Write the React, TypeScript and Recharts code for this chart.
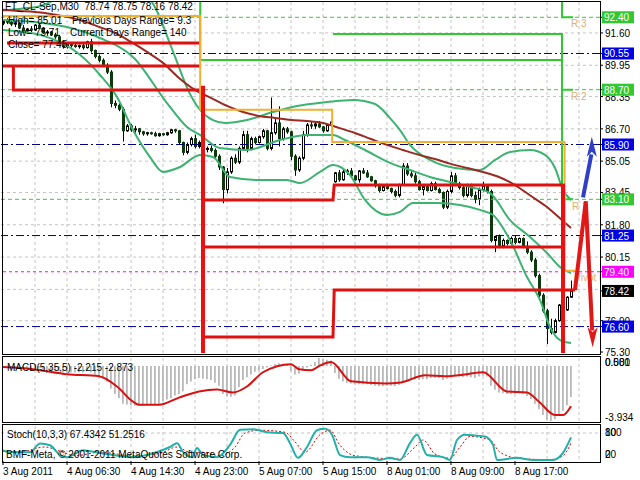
import React from 'react';
import {ComposedChart, Bar, Line, Scatter, XAxis, YAxis, CartesianGrid, ReferenceLine} from 'recharts';

const FONT = '"Liberation Sans", Arial, sans-serif';
const X_DOMAIN: [number, number] = [-0.5, 149.25];

// M30 bars: [open, high, low, close]
const candles: number[][] = [
	[92.1, 92.3, 92.0, 92.2], [92.2, 92.35, 92.05, 92.15], [92.15, 92.3, 91.95, 92.05], [92.05, 92.25, 91.9, 92.1],
	[92.1, 92.2, 91.8, 91.85], [91.85, 92.0, 91.6, 91.7], [91.7, 91.85, 91.55, 91.8], [91.8, 91.95, 91.65, 91.75],
	[91.75, 92.05, 91.7, 92.0], [92.0, 92.1, 91.8, 91.85], [91.85, 91.9, 91.55, 91.6], [91.6, 91.75, 91.5, 91.65],
	[91.65, 91.7, 91.45, 91.5], [91.5, 91.6, 91.3, 91.4], [91.4, 91.5, 91.05, 91.15], [91.15, 91.2, 90.8, 90.9],
	[90.9, 91.05, 90.8, 91.0], [91.0, 91.1, 90.85, 90.95], [90.95, 91.05, 90.85, 90.9], [90.9, 91.0, 90.8, 90.95],
	[90.95, 91.05, 90.75, 90.85], [90.85, 91.2, 90.8, 91.15], [91.15, 91.3, 90.6, 90.7], [90.7, 90.75, 90.3, 90.4],
	[90.4, 90.5, 90.1, 90.2], [90.2, 90.3, 89.85, 89.95], [89.95, 90.05, 89.5, 89.6], [89.6, 89.7, 87.8, 88.0],
	[88.0, 88.15, 87.75, 87.9], [87.9, 88.0, 87.6, 87.7], [87.7, 87.8, 86.05, 86.6], [86.6, 86.95, 86.55, 86.85],
	[86.85, 86.95, 86.55, 86.65], [86.65, 86.85, 86.5, 86.7], [86.7, 86.75, 86.4, 86.55], [86.55, 86.6, 86.35, 86.45],
	[86.45, 86.55, 86.35, 86.5], [86.5, 86.55, 86.4, 86.45], [86.45, 86.55, 86.3, 86.35], [86.35, 86.5, 86.3, 86.45],
	[86.45, 86.5, 86.35, 86.4], [86.4, 86.55, 86.35, 86.5], [86.5, 86.7, 86.45, 86.65], [86.65, 86.7, 86.5, 86.6],
	[86.6, 86.65, 85.9, 86.0], [86.0, 86.05, 85.35, 85.5], [85.5, 86.0, 85.4, 85.9], [85.9, 86.3, 85.8, 86.2],
	[86.2, 86.4, 85.7, 85.8], [85.8, 86.1, 85.7, 86.0], [86.0, 86.05, 85.55, 85.65], [85.65, 85.8, 85.5, 85.7],
	[85.7, 85.85, 85.5, 85.6], [85.6, 85.7, 85.2, 85.3], [85.3, 85.4, 84.6, 84.75], [84.75, 84.8, 82.9, 83.6],
	[83.6, 84.7, 83.4, 84.5], [84.5, 85.3, 84.4, 85.2], [85.2, 85.4, 84.9, 85.0], [85.0, 85.8, 84.9, 85.7],
	[85.7, 86.6, 85.6, 86.4], [86.4, 86.6, 85.5, 85.7], [85.7, 86.3, 85.6, 86.2], [86.2, 86.3, 85.9, 86.0],
	[86.0, 86.35, 85.95, 86.3], [86.3, 86.7, 86.2, 86.6], [86.6, 86.65, 85.6, 85.7], [85.7, 88.3, 85.6, 86.5],
	[86.5, 87.2, 86.4, 87.0], [87.0, 87.85, 85.8, 86.2], [86.2, 86.8, 86.1, 86.7], [86.7, 86.8, 86.45, 86.55],
	[86.55, 86.6, 85.1, 85.3], [85.3, 85.4, 84.3, 84.6], [84.6, 85.3, 84.5, 85.2], [85.2, 86.6, 85.1, 86.4],
	[86.4, 87.0, 86.3, 86.9], [86.9, 87.1, 86.7, 86.85], [86.85, 87.05, 86.7, 86.95], [86.95, 87.1, 86.75, 86.8],
	[86.8, 86.85, 86.5, 86.6], [86.6, 86.95, 86.55, 86.9], [86.9, 87.1, 86.8, 87.05],
	// 8 Aug
	[84.0, 84.5, 83.95, 84.45], [84.45, 84.6, 84.0, 84.1], [84.1, 84.6, 84.05, 84.5], [84.5, 84.65, 84.35, 84.55],
	[84.55, 84.7, 84.2, 84.3], [84.3, 84.35, 84.05, 84.1], [84.1, 84.6, 83.95, 84.55], [84.55, 84.7, 84.4, 84.45],
	[84.45, 84.6, 84.2, 84.25], [84.25, 84.3, 84.0, 84.05], [84.05, 84.1, 83.7, 83.8], [83.8, 83.9, 83.45, 83.55],
	[83.55, 83.85, 83.5, 83.75], [83.75, 83.8, 83.6, 83.65], [83.65, 83.7, 83.4, 83.5], [83.5, 83.6, 83.2, 83.3],
	[83.3, 83.9, 83.2, 83.85], [83.85, 84.95, 83.8, 84.8], [84.8, 84.95, 84.3, 84.4], [84.4, 84.6, 84.2, 84.3],
	[84.3, 84.45, 83.9, 84.0], [84.0, 84.1, 83.55, 83.6], [83.6, 83.8, 83.3, 83.75], [83.75, 83.8, 83.5, 83.55],
	[83.55, 84.0, 83.5, 83.9], [83.9, 84.0, 83.55, 83.6], [83.6, 83.7, 83.4, 83.45], [83.45, 83.5, 82.6, 82.7],
	[82.7, 83.6, 82.6, 83.5], [83.5, 84.5, 83.4, 84.3], [84.3, 84.45, 83.8, 83.9], [83.9, 84.0, 83.6, 83.7],
	[83.7, 83.85, 83.2, 83.3], [83.3, 83.9, 83.2, 83.8], [83.8, 83.9, 83.2, 83.3], [83.3, 83.5, 82.9, 83.1],
	[83.1, 83.7, 82.8, 83.6], [83.6, 84.0, 83.5, 83.8], [83.8, 83.85, 83.4, 83.5], [83.5, 83.6, 80.9, 81.0],
	[81.0, 81.25, 80.4, 81.2], [81.2, 81.3, 80.6, 80.7], [80.7, 81.1, 80.6, 81.0], [81.0, 81.05, 80.75, 80.85],
	[80.85, 81.2, 80.75, 81.1], [81.1, 81.25, 80.8, 80.9], [80.9, 81.15, 80.85, 81.1], [81.1, 81.15, 80.6, 80.7],
	[80.7, 80.95, 80.3, 80.4], [80.4, 80.5, 79.9, 80.0], [80.0, 80.1, 79.1, 79.2], [79.2, 79.3, 78.1, 78.2],
	[78.2, 78.3, 77.3, 77.4], [77.4, 77.5, 75.71, 76.5], [76.5, 77.0, 76.2, 76.3], [76.3, 77.0, 76.25, 76.9],
	[76.9, 77.75, 76.85, 77.7], [77.7, 77.75, 77.4, 77.45], [77.45, 78.15, 77.4, 78.1], [78.1, 78.95, 78.08, 78.42],
];

const macdHist = [
	-0.05, -0.05, -0.08, -0.08, -0.12, -0.18, -0.2, -0.2, -0.15, -0.15, -0.2,
	-0.25, -0.28, -0.3, -0.38, -0.45, -0.45, -0.45, -0.45, -0.45, -0.45,
	-0.35, -0.45, -0.6, -0.75, -0.9, -1.1,
	-1.6, -2.0, -2.3, -2.7, -2.75,
	-2.8, -2.85, -2.85, -2.85, -2.8, -2.8, -2.75, -2.7,
	-2.5, -2.4, -2.3, -2.1, -2.0,
	-1.8, -1.3, -1.1, -0.95, -0.85,
	-0.9, -0.95, -1.0, -1.2, -1.4,
	-2.0, -2.15, -2.2, -2.1,
	-1.5, -1.0, -0.8, -0.6,
	-0.4, -0.3, -0.2, -0.1, 0.05, 0.15, 0.2, 0.15, 0.1,
	-0.35, -0.6, -0.55,
	-0.2, -0.1, 0.1, 0.3, 0.58, 0.5, 0.45, 0.4,
	-0.5, -0.9, -1.1, -1.2, -1.25, -1.3, -1.3, -1.3, -1.3, -1.35, -1.4, -1.45, -1.45, -1.4, -1.4, -1.45, -1.35,
	-1.1, -1.0, -0.95, -0.95, -1.0, -0.95, -0.95, -0.85, -0.85, -0.85, -1.0, -0.9, -0.7, -0.7, -0.75, -0.8,
	-0.75, -0.8, -0.85, -0.75, -0.7, -0.75,
	-1.4, -1.7, -1.9, -1.95, -2.0, -2.0, -2.0, -1.95, -2.0, -2.15, -2.35, -2.7, -3.1, -3.5, -3.85, -3.93,
	-3.8, -3.5, -3.2, -2.8, -2.215,
];

// [bar, value]
const macdSignal = [
	[0, -0.07], [7.5, -0.22], [16, -0.58], [24, -0.73], [28.5, -1.46], [32.5, -2.55], [34, -2.77], [39, -2.77],
	[44, -2.26], [49, -1.82], [53.5, -1.68], [57.5, -1.89], [61, -1.46], [65, -0.44], [72, 0.14], [74, -0.22],
	[77, -0.3], [79, 0.0], [82, 0.29], [87, -1.09], [95.5, -1.24], [99.5, -1.17], [105.5, -0.66], [110.5, -0.73],
	[116, -0.58], [120, -0.44], [126, -1.82], [131, -1.89], [134, -2.55], [138, -3.5], [140, -3.5], [142, -2.87],
];

const stochMain = [
	[0, 30], [1.75, 25], [6.75, 25], [9.25, 50], [11.75, 45], [14.25, 17], [16, 11], [20, 31], [24.25, 23],
	[32.5, 11], [38.5, 26], [41.75, 40], [43.5, 51], [45, 26], [47.25, 11], [48.5, 37], [50, 17], [53.5, 11],
	[56.75, 46], [59.25, 89], [62.5, 91], [66, 82], [70, 80], [71.75, 51], [73.75, 9], [76, 40], [78.5, 88],
	[80.5, 92], [82.25, 75], [84.25, 17], [86.75, 11], [91, 11], [94.25, 3], [96.75, 9], [99.25, 3], [101.75, 51],
	[103.5, 75], [106, 17], [110, 11], [111.75, 3], [113.5, 60], [115.5, 75], [118, 73], [120.5, 70], [122.5, 46],
	[123.5, 3], [128.5, 9], [132.5, 3], [137.5, 3], [140, 23], [142, 67.43],
];

const stochSignal = [
	[0, 28], [4.25, 26], [10.5, 40], [14.25, 28], [18, 15], [24.25, 25], [32.5, 15], [39.25, 22], [43.5, 40],
	[46.75, 25], [50, 25], [54.25, 15], [58, 40], [60.5, 80], [64.25, 88], [70.5, 82], [73, 55], [75.5, 25],
	[79.25, 75], [81.75, 88], [84.25, 45], [88, 15], [99.25, 6], [103, 40], [105, 60], [108, 20], [111.75, 8],
	[114.25, 40], [116.75, 70], [121.75, 60], [124.25, 25], [129.25, 7], [136.75, 4], [140, 15], [142, 51.25],
];

const maLine = [
	[0, 92.78], [4, 92.72], [8, 92.67], [12, 92.57], [16, 92.42], [20, 92.21], [24, 91.91], [28, 91.6], [32, 91.14],
	[36, 90.63], [40, 90.07], [44, 89.3], [48, 88.69], [52, 88.28], [56, 87.87], [60, 87.56], [64, 87.36], [68, 87.26],
	[72, 87.15], [76, 87.1], [80, 87.0], [84, 86.75], [88, 86.49], [92, 86.18], [96, 85.88], [100, 85.62], [104, 85.37],
	[108, 85.16], [112, 84.91], [116, 84.7], [120, 84.5], [124, 84.24], [128, 83.83], [132, 83.27], [136, 82.71],
	[140, 81.99], [142, 81.64],
];

const bbUpper = [
	[0, 92.75], [5, 92.85], [9, 92.95], [13, 93.3], [20, 94.0], [30, 94.0], [36.75, 93.3], [39.25, 92.37], [41, 91.45],
	[43.5, 90.12], [46.25, 88.69], [49.25, 87.67], [52.5, 87.15], [55.5, 87.0], [61, 87.15], [67.5, 87.56],
	[73.5, 87.87], [81, 88.07], [87.5, 88.18], [93, 87.97], [96.75, 87.25], [99.25, 86.64], [101.75, 85.88],
	[106.75, 85.11], [113, 84.7], [119.25, 84.6], [123, 85.11], [126.75, 85.52], [131.75, 85.62], [135.5, 85.37],
	[138, 84.7], [140, 83.58], [142, 83.07],
];

const bbMid = [
	[0, 92.26], [8, 92.16], [16, 91.9], [24.25, 91.34], [32.5, 90.37], [41, 88.02], [46, 86.8], [49.25, 86.39],
	[54.25, 85.72], [61, 85.62], [69.25, 86.13], [76, 86.39], [82.5, 86.39], [85.5, 86.13], [90.5, 85.62],
	[96.75, 84.96], [101.75, 84.6], [106.75, 84.24], [111.75, 83.99], [116.75, 83.73], [121.75, 83.42],
	[126.75, 82.04], [131.75, 81.18], [136, 80.36], [139.25, 79.64], [142, 79.33],
];

const bbLower = [
	[0, 91.75], [9.25, 91.5], [19.25, 90.48], [24.25, 89.45], [28.5, 88.33], [32.5, 86.64], [36.75, 85.26],
	[40, 84.5], [44.25, 84.75], [49.25, 85.37], [52.5, 85.26], [56.75, 84.24], [63.5, 84.09], [71, 84.09],
	[74.25, 83.93], [79.25, 84.5], [82.5, 84.85], [86.75, 84.34], [90.5, 83.07], [96, 82.3], [99.25, 82.46],
	[102.5, 82.91], [108.5, 82.91], [114.25, 82.81], [119.25, 82.56], [122.5, 82.3], [126.75, 81.02], [131, 79.13],
	[134.25, 77.96], [136.75, 76.58], [139.25, 75.91], [142, 75.76],
];

// daily pivot levels, drawn as steps
const pivotSteps = [
	[0, 92.47], [49.3, 92.47], [49.3, 87.67], [82.3, 87.67], [82.3, 86.03], [140.4, 86.03], [140.4, 79.45], [143, 79.45],
];
const supportSteps = [
	[[0, 89.91], [2.6, 89.91], [2.6, 88.69], [49.3, 88.69]],
	[[1, 91.09], [49.3, 91.09]],
	[[3, 89.91], [49.3, 89.91]],
	[[50, 83.07], [82.5, 83.07], [82.8, 83.83], [140, 83.83]],
	[[50, 80.66], [140, 80.66]],
	[[50, 76.07], [82.5, 76.07], [82.8, 78.47], [143, 78.47]],
];
const resistSteps = [
	[[49.3, 93.5], [49.3, 90.22], [139.75, 90.22], [139.75, 83.1], [142.5, 83.1]],
	[[82.5, 91.55], [139.75, 91.55], [139.75, 88.7], [142.5, 88.7]],
	[[139.75, 93.5], [139.75, 92.4], [142.5, 92.4]],
];
const dayOpenLines = [
	[[50, 88.9], [50, 75.25]],
	[[140, 83.9], [140, 75.25]],
];
const arrowRed = [[143, 78.47], [145.7, 83.0], [147.3, 76.4]];
const arrowBlue = [[145, 83.2], [147.1, 85.4]];
const arrowHeads = [
	{i: 147.2, p: 86.3, dir: 'up', color: '#2f3fc8'},
	{i: 147.4, p: 75.55, dir: 'down', color: '#e01818'},
];

const levelLines = [
	{p: 92.4, color: '#3cc83c', dash: '4 3'},
	{p: 88.7, color: '#3cc83c', dash: '4 3'},
	{p: 83.1, color: '#3cc83c', dash: '4 3'},
	{p: 90.55, color: '#000080', dash: '8 3 2 3'},
	{p: 85.9, color: '#000080', dash: '8 3 2 3'},
	{p: 81.25, color: '#000080', dash: '8 3 2 3'},
	{p: 76.6, color: '#000080', dash: '8 3 2 3'},
	{p: 79.4, color: '#ff00ff', dash: '3 3'},
];
const tagColors: Record<string, string> = {
	'92.40': '#32c832', '88.70': '#32c832', '83.10': '#32c832',
	'90.55': '#0000e6', '85.90': '#0000e6', '81.25': '#0000e6', '76.60': '#0000e6',
	'79.40': '#ff00ff', '78.42': '#000000',
};
const priceGrid = [91.6, 89.95, 88.35, 86.7, 85.05, 83.45, 81.8, 80.15, 78.5, 76.9];
const priceTicks = [91.6, 89.95, 88.35, 86.7, 85.05, 83.45, 81.8, 80.15, 76.9, 75.3,
	92.4, 90.55, 88.7, 85.9, 83.1, 81.25, 79.4, 78.42, 76.6];
const gridBars = [8, 16, 24, 32, 40, 48, 56, 64, 72, 80, 88, 96, 104, 112, 120, 128, 136, 144];
const dateBars = [0, 16, 32, 48, 64, 80, 96, 112, 128];
const dateLabels = ['3 Aug 2011', '4 Aug 06:30', '4 Aug 14:30', '4 Aug 23:00', '5 Aug 07:00',
	'5 Aug 15:00', '8 Aug 01:00', '8 Aug 09:00', '8 Aug 17:00'];

const candleData = candles.map((c, i) => ({i, o: c[0], h: c[1], l: c[2], c: c[3]}));
const macdData = macdHist.map((v, i) => ({i, v}));
const pts = (a: number[][]) => a.map(([i, p]) => ({i, p}));

const Candle = (props: any) => {
	const {x, y, width, height, payload} = props;
	if (!payload || height == null) return null;
	const {o, h, l, c} = payload;
	const cx = Math.round(x + width / 2);
	const top = Math.min(y, y + height);
	const span = Math.abs(height);
	const k = h - l > 0 ? span / (h - l) : 0;
	const yO = top + (h - o) * k;
	const yC = top + (h - c) * k;
	const bTop = Math.min(yO, yC);
	const bH = Math.max(1, Math.abs(yO - yC));
	const bull = c >= o;
	return <g>
		<line x1={cx + 0.5} x2={cx + 0.5} y1={top} y2={top + span} stroke="#000"/>
		<rect x={cx - 0.5} y={bTop} width={2} height={bH} fill={bull ? '#fff' : '#0e3a0e'}
			stroke={bull ? '#000' : '#0e3a0e'} strokeWidth={1}/>
	</g>;
};

const PriceTick = (props: any) => {
	const {x, y, payload} = props;
	const key = Number(payload.value).toFixed(2);
	const bg = tagColors[key];
	if (bg) {
		return <g>
			<rect x={x - 3} y={y - 6} width={32} height={12} fill={bg}/>
			<text x={x - 1} y={y + 4} fill="#fff" fontSize={10} fontFamily={FONT}>{key}</text>
		</g>;
	}
	return <text x={x} y={y + 4} fill="#000" fontSize={10} fontFamily={FONT}>{key}</text>;
};

const DateTick = (props: any) => {
	const {x, y, index} = props;
	return <text x={x} y={y + 8} fill="#000" fontSize={10} fontFamily={FONT}>{dateLabels[index]}</text>;
};

const ArrowHead = (props: any) => {
	const {cx, cy, payload} = props;
	const s = payload.dir === 'up' ? 1 : -1;
	const p = [[cx, cy], [cx - 5, cy + s * 20], [cx, cy + s * 15], [cx + 5, cy + s * 20]];
	return <polygon points={p.map(q => q.join(',')).join(' ')} fill={payload.color}/>;
};

const panel = (top: number, height: number): React.CSSProperties => ({
	position: 'absolute', left: 2, top, width: 599, height, border: '1px solid #000',
	boxSizing: 'border-box', pointerEvents: 'none',
});

const txt = {fontSize: 10, fontFamily: FONT};

export default function App() {
	return <div style={{position: 'fixed', left: 0, top: 0, width: 640, height: 480, background: '#fff', overflow: 'hidden'}}>
		<svg width={600} height={354} style={{position: 'absolute', left: 0, top: 0}}>
			<g fill="#e0b070" {...txt}>
				<text x={571} y={27}>R 3</text>
				<text x={571} y={100}>R 2</text>
				<text x={572} y={210}>R 1</text>
				<text x={574} y={281}>Pivot P</text>
			</g>
		</svg>
		<div style={{position: 'absolute', left: 0, top: 0}}>
			<ComposedChart width={640} height={360} data={candleData} margin={{top: 2, right: 0, bottom: 7, left: 1}}>
				<CartesianGrid horizontalValues={priceGrid} verticalValues={gridBars} stroke="#c4c4c4" strokeDasharray="3 3"/>
				<XAxis dataKey="i" type="number" domain={X_DOMAIN} allowDataOverflow hide/>
				<YAxis orientation="right" width={40} type="number" domain={[75.25, 93.18]} allowDataOverflow
					ticks={priceTicks} interval={0} tickSize={3} tickLine={{stroke: '#000'}} axisLine={false}
					tick={<PriceTick/>}/>
				{levelLines.map(l => <ReferenceLine key={l.p} y={l.p} stroke={l.color} strokeDasharray={l.dash}/>)}
				<Bar dataKey={(d: any) => [d.l, d.h]} barSize={3} shape={<Candle/>} isAnimationActive={false}/>
				<Line data={pts(bbUpper)} dataKey="p" type="monotone" stroke="#3cb371" strokeWidth={2} dot={false} isAnimationActive={false}/>
				<Line data={pts(bbMid)} dataKey="p" type="monotone" stroke="#3cb371" strokeWidth={2} dot={false} isAnimationActive={false}/>
				<Line data={pts(bbLower)} dataKey="p" type="monotone" stroke="#3cb371" strokeWidth={2} dot={false} isAnimationActive={false}/>
				<Line data={pts(maLine)} dataKey="p" type="monotone" stroke="#9a2a22" strokeWidth={2} dot={false} isAnimationActive={false}/>
				{resistSteps.map((s, k) => <Line key={'g' + k} data={pts(s)} dataKey="p" stroke="#32c832" strokeWidth={2} dot={false} isAnimationActive={false}/>)}
				{supportSteps.map((s, k) => <Line key={'r' + k} data={pts(s)} dataKey="p" stroke="#e01010" strokeWidth={3} dot={false} isAnimationActive={false}/>)}
				<Line data={pts(pivotSteps)} dataKey="p" stroke="#f0b030" strokeWidth={2} dot={false} isAnimationActive={false}/>
				{dayOpenLines.map((s, k) => <Line key={'d' + k} data={pts(s)} dataKey="p" stroke="#ee1010" strokeWidth={4} dot={false} isAnimationActive={false}/>)}
				<Line data={pts(arrowBlue)} dataKey="p" stroke="#2f3fc8" strokeWidth={4} dot={false} isAnimationActive={false}/>
				<Line data={pts(arrowRed)} dataKey="p" stroke="#e01818" strokeWidth={4} dot={false} isAnimationActive={false}/>
				<Scatter data={arrowHeads} dataKey="p" shape={<ArrowHead/>} isAnimationActive={false}/>
			</ComposedChart>
		</div>
		<div style={{position: 'absolute', left: 0, top: 356}}>
			<ComposedChart width={640} height={66} data={macdData} margin={{top: 2, right: 40, bottom: 1, left: 1}}>
				<CartesianGrid horizontal={false} verticalValues={gridBars} stroke="#c4c4c4" strokeDasharray="3 3"/>
				<XAxis dataKey="i" type="number" domain={X_DOMAIN} allowDataOverflow hide/>
				<YAxis hide type="number" domain={[-3.934, 0.581]} allowDataOverflow/>
				<Bar dataKey="v" barSize={2} fill="#b8b8b8" isAnimationActive={false}/>
				<Line data={pts(macdSignal)} dataKey="p" type="monotone" stroke="#d81010" strokeWidth={2} dot={false} isAnimationActive={false}/>
			</ComposedChart>
		</div>
		<div style={{position: 'absolute', left: 0, top: 424}}>
			<ComposedChart width={640} height={56} margin={{top: 2, right: 40, bottom: 0, left: 1}}>
				<CartesianGrid horizontalValues={[20, 80]} verticalValues={gridBars} stroke="#c4c4c4" strokeDasharray="3 3"/>
				<XAxis dataKey="i" type="number" domain={X_DOMAIN} allowDataOverflow height={19} ticks={dateBars}
					interval={0} tickSize={4} axisLine={false} tickLine={{stroke: '#000'}} tick={<DateTick/>}/>
				<YAxis hide type="number" domain={[0, 100]} allowDataOverflow/>
				<Line data={pts(stochSignal)} dataKey="p" type="monotone" stroke="#e00000" strokeWidth={1} strokeDasharray="2 2" dot={false} isAnimationActive={false}/>
				<Line data={pts(stochMain)} dataKey="p" type="monotone" stroke="#20b2aa" strokeWidth={2} dot={false} isAnimationActive={false}/>
			</ComposedChart>
		</div>
		<div style={panel(1, 354)}/>
		<div style={panel(356, 67)}/>
		<div style={panel(424, 39)}/>
		<svg width={640} height={480} style={{position: 'absolute', left: 0, top: 0, pointerEvents: 'none'}}>
			<g fill="#000" {...txt}>
				<text x={5} y={10} xmlSpace="preserve">FT_CL-Sep,M30  78.74 78.75 78.16 78.42</text>
				<text x={8} y={24}>High= 85.01</text>
				<text x={72} y={24}>Previous Days Range= 9.3</text>
				<text x={8} y={36}>Low= 75.71</text>
				<text x={70} y={36}>Current Days Range= 140</text>
				<text x={8} y={48}>Close= 77.45</text>
				<text x={7} y={371}>MACD(5,35,5) -2.215 -2.873</text>
				<text x={605} y={366}>0.581</text>
				<text x={605} y={366}>0.000</text>
				<text x={605} y={421}>-3.934</text>
				<text x={7} y={438}>Stoch(10,3,3) 67.4342 51.2516</text>
				<text x={6} y={458}>BMF-Meta, © 2001-2011 MetaQuotes Software Corp.</text>
				<text x={605} y={436}>100</text>
				<text x={605} y={436}>80</text>
				<text x={605} y={458}>20</text>
				<text x={605} y={458}>0</text>
			</g>
		</svg>
	</div>;
}
